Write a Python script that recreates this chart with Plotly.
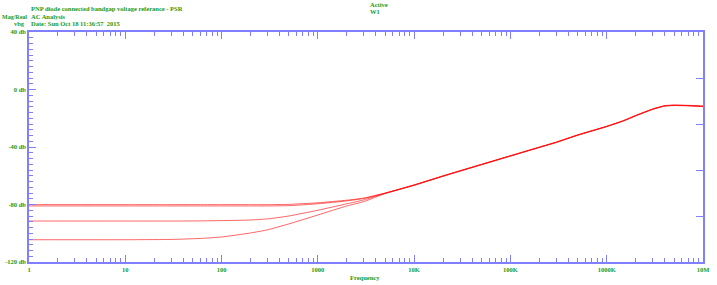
import plotly.graph_objects as go

# ---- data ----
freq = [1, 10, 30, 60, 100, 200, 300, 500, 1000, 2000, 3000, 5000,
        10e3, 20e3, 50e3, 100e3, 200e3, 300e3, 500e3, 1e6, 1.5e6, 2e6, 3e6,
        4e6, 5e6, 7e6, 10e6]

curve_a = [-80.1, -80.1, -80.1, -80.1, -80.1, -80.1, -80.1, -79.9, -78.8, -77.0, -75.5, -72.0,
           -66.3, -60.0, -52.0, -46.0, -40.0, -36.5, -31.5, -25.5, -21.5, -18.0, -13.5,
           -11.2, -10.8, -11.0, -11.5]
curve_b = [-81.0, -81.0, -81.0, -81.0, -81.0, -81.0, -81.0, -80.8, -79.5, -77.5, -75.8, -72.2,
           -66.5, -60.2, -52.2, -46.2, -40.2, -36.7, -31.7, -25.7, -21.7, -18.2, -13.7,
           -11.4, -11.0, -11.2, -11.7]
curve_c = [-91.5, -91.5, -91.5, -91.4, -91.2, -90.8, -90.0, -88.0, -84.0, -79.5, -76.8, -72.2,
           -66.5, -60.2, -52.2, -46.2, -40.2, -36.7, -31.7, -25.7, -21.7, -18.2, -13.7,
           -11.4, -11.0, -11.2, -11.7]
curve_d = [-104.5, -104.5, -104.3, -103.6, -102.6, -99.8, -97.6, -93.5, -87.3, -81.0, -78.0, -72.4,
           -66.7, -60.4, -52.4, -46.4, -40.4, -36.9, -31.9, -25.9, -21.9, -18.4, -13.9,
           -11.6, -11.2, -11.4, -11.9]

x_tick_vals = [1, 10, 100, 1000, 1e4, 1e5, 1e6, 1e7]
x_tick_text = ["1", "10", "100", "1000", "10K", "100K", "1000K", "10M"]
x_minor_vals = [m * 10 ** d for d in range(7) for m in range(2, 10)]

y_tick_vals = [40, 0, -40, -80, -120]
y_tick_text = ["40 db", "0 db", "-40 db", "-80 db", "-120 db"]

AXIS = "#8080ff"
GREEN = "#1a9a1a"
LINE = "rgba(255,0,0,0.6)"
FONT = "Liberation Serif"
FS = 6.5

fig = go.Figure()
for ys in (curve_a, curve_b, curve_c, curve_d):
    fig.add_trace(go.Scatter(x=freq, y=ys, mode="lines",
                             line=dict(color=LINE, width=1, shape="spline", smoothing=0.5),
                             showlegend=False, hoverinfo="skip"))
fig.add_trace(go.Scatter(x=[None], y=[None], yaxis="y2", showlegend=False, hoverinfo="skip"))

W, H = 717, 285
L, R, T, B = 29, 14, 32, 23
pw, ph = W - L - R, H - T - B


def px(xp):
    return (xp - L) / pw


def py(yp):
    return (H - B - yp) / ph


tickfont = dict(family=FONT, size=FS, color=GREEN, weight="bold")

fig.update_layout(
    width=W, height=H,
    margin=dict(l=L, r=R, t=T, b=B, pad=0, autoexpand=False),
    paper_bgcolor="white", plot_bgcolor="white",
    font=dict(family=FONT, size=FS, color=GREEN),
    xaxis=dict(type="log", range=[0, 7], showgrid=False, zeroline=False, automargin=False,
               showline=True, linecolor=AXIS, linewidth=1.5, mirror="ticks",
               ticks="inside", ticklen=7, tickcolor=AXIS, tickwidth=1,
               tickmode="array", tickvals=x_tick_vals, ticktext=x_tick_text,
               tickfont=tickfont,
               minor=dict(tickmode="array", tickvals=x_minor_vals, ticks="inside",
                          ticklen=4, tickcolor=AXIS, tickwidth=1, showgrid=False)),
    yaxis=dict(range=[-120, 40], showgrid=False, zeroline=False, automargin=False,
               showline=True, linecolor=AXIS, linewidth=1.5, mirror=True,
               ticks="inside", ticklen=7, tickcolor=AXIS, tickwidth=1,
               tickmode="array", tickvals=y_tick_vals, ticktext=y_tick_text,
               tickfont=tickfont,
               minor=dict(dtick=4, tick0=0, ticks="inside", ticklen=4,
                          tickcolor=AXIS, tickwidth=1, showgrid=False)),
    yaxis2=dict(overlaying="y", side="right", range=[0, 5], showgrid=False, automargin=False,
                zeroline=False, showline=False, ticks="inside", ticklen=7,
                tickcolor=AXIS, tickwidth=1, tickmode="array", tickvals=[1, 2, 3, 4],
                showticklabels=False),
)

notes = [
    ("PNP diode connected bandgap voltage referance - PSR", 29, 9, "left", FS),
    ("Mag/Real", 0.5, 16.5, "left", 6),
    ("AC Analysis", 29, 16.5, "left", FS),
    ("vbg", 27, 24, "right", FS),
    ("Date: Sun Oct 18 11:36:57  2015", 29, 24, "left", FS),
    ("Active", 368, 4, "left", FS),
    ("W1", 368, 11, "left", FS),
    ("Frequency", 365, 277, "center", FS),
]
for txt, xp, yp, anc, fs in notes:
    fig.add_annotation(text=txt, x=px(xp), y=py(yp), xref="paper", yref="paper",
                       xanchor=anc, yanchor="middle", showarrow=False,
                       font=dict(family=FONT, size=fs, color=GREEN, weight="bold"))

fig.write_html("out.html")
